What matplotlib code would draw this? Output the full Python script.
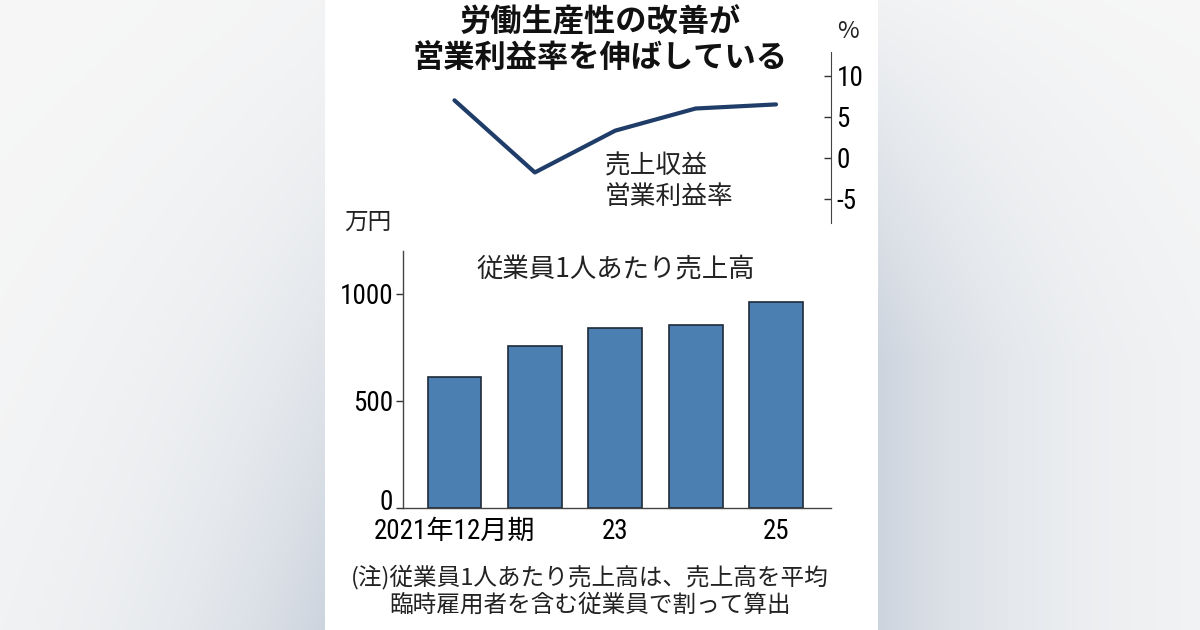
import numpy as np
import matplotlib.pyplot as plt
import matplotlib.transforms as mtransforms
from matplotlib import font_manager

# data
periods = ['2021年12月期', '22', '23', '24', '25']
tick_labels = ['2021年12月期', '', '23', '', '25']
sales_per_employee = [613, 755, 841, 852, 963]      # 万円
op_margin = [7.0, -1.8, 3.3, 6.0, 6.5]             # %

names = {f.name for f in font_manager.fontManager.ttflist}
num_font, num_size = 'Noto Sans CJK JP', 19
for cand in ['Liberation Sans Narrow', 'DejaVu Sans Condensed', 'Roboto Condensed']:
    if cand in names:
        num_font, num_size = cand, 19.5
        break
jp = ['Noto Sans CJK JP', 'DejaVu Sans']
num = [num_font, 'Noto Sans CJK JP', 'DejaVu Sans']
plt.rcParams['font.family'] = jp

W, H = 1200, 630
fig = plt.figure(figsize=(12, 6.3), dpi=100)

# backdrop: grey gradient at the sides, white panel in the middle
bg = fig.add_axes([0, 0, 1, 1], zorder=-10)
xx, yy = np.meshgrid(np.arange(W), np.arange(H))
left_d = np.clip(325 - xx, 0, None)
right_d = np.clip(xx - 877, 0, None)
wl = np.exp(-left_d / 170.0) * (0.1 + 0.9 * (yy / H) ** 1.3)
wr = np.exp(-right_d / 160.0) * (0.15 + 0.85 * np.clip(yy / 360.0, 0, 1))
w = np.where(xx < 325, wl, np.where(xx > 877, wr, 0))
light = np.array([0.97, 0.97, 0.97])
dark = np.array([0.80, 0.83, 0.87])
img = light + (dark - light) * w[..., None]
img[(xx >= 325) & (xx <= 877)] = 1.0
bg.imshow(img, aspect='auto', extent=[0, W, H, 0])
bg.axis('off')

# bar chart
ax = fig.add_axes([402.7 / W, 1 - 508 / H, (831 - 402.7) / W, (508 - 250.7) / H])
x = np.arange(len(periods))
ax.bar(x, sales_per_employee, width=0.67, color='#4b7fb1', edgecolor='#1e2a38', linewidth=1.2)
ax.set_xlim(-0.644, 4.684)
ax.set_ylim(0, 1200)
ax.set_yticks([0, 500, 1000])
ax.set_yticklabels(['0', '500', '1000'], family=num, fontsize=num_size)
ax.set_xticks(x)
ax.set_xticklabels(tick_labels, family=num, fontsize=num_size)
ax.tick_params(axis='x', length=0, pad=7)
ax.tick_params(axis='y', length=5, width=1, pad=2, color='#333333')
# lift the "0" label off the baseline so it clears the first period label
zero = ax.get_yticklabels()[0]
zero.set_transform(zero.get_transform() + mtransforms.ScaledTranslation(0, 8 / 100, fig.dpi_scale_trans))
for s in ['top', 'right']:
    ax.spines[s].set_visible(False)
for s in ['left', 'bottom']:
    ax.spines[s].set_color('#444444')
    ax.spines[s].set_linewidth(1.0)
ax.patch.set_alpha(0)
ax.text(2.0, 1110, '従業員1人あたり売上高', ha='center', va='center', fontsize=19, color='#222222')

# line chart (right axis)
ax2 = fig.add_axes([402.7 / W, 1 - 222.7 / H, (831 - 402.7) / W, (222.7 - 51.7) / H])
ax2.plot(x, op_margin, color='#1f3d68', linewidth=3, solid_joinstyle='round', solid_capstyle='round')
ax2.set_xlim(-0.644, 4.684)
ax2.set_ylim(-7.93, 12.93)
ax2.yaxis.tick_right()
ax2.set_yticks([-5, 0, 5, 10])
ax2.set_yticklabels(['-5', '0', '5', '10'], family=num, fontsize=num_size)
ax2.tick_params(axis='y', direction='in', length=5, width=1, pad=4, color='#333333')
ax2.set_xticks([])
for s in ['top', 'left', 'bottom']:
    ax2.spines[s].set_visible(False)
ax2.spines['right'].set_color('#444444')
ax2.patch.set_alpha(0)
ax2.text(1.87, -2.96, '売上収益\n営業利益率', ha='left', va='center', fontsize=18.5,
         color='#222222', linespacing=1.25)

# texts
fig.text(600 / W, 1 - 40 / H, '労働生産性の改善が\n営業利益率を伸ばしている', ha='center', va='center',
         fontsize=22.5, fontweight='bold', color='#111111', linespacing=1.15)
fig.text(848 / W, 1 - 31 / H, '%', ha='center', va='center', fontsize=17, color='#222222')
fig.text(368 / W, 1 - 222 / H, '万円', ha='center', va='center', fontsize=17, color='#222222')
fig.text(590 / W, 1 - 591 / H, '(注)従業員1人あたり売上高は、売上高を平均\n臨時雇用者を含む従業員で割って算出',
         ha='center', va='center', fontsize=17, color='#222222', linespacing=1.25)

fig.savefig('out.png', dpi=100)
